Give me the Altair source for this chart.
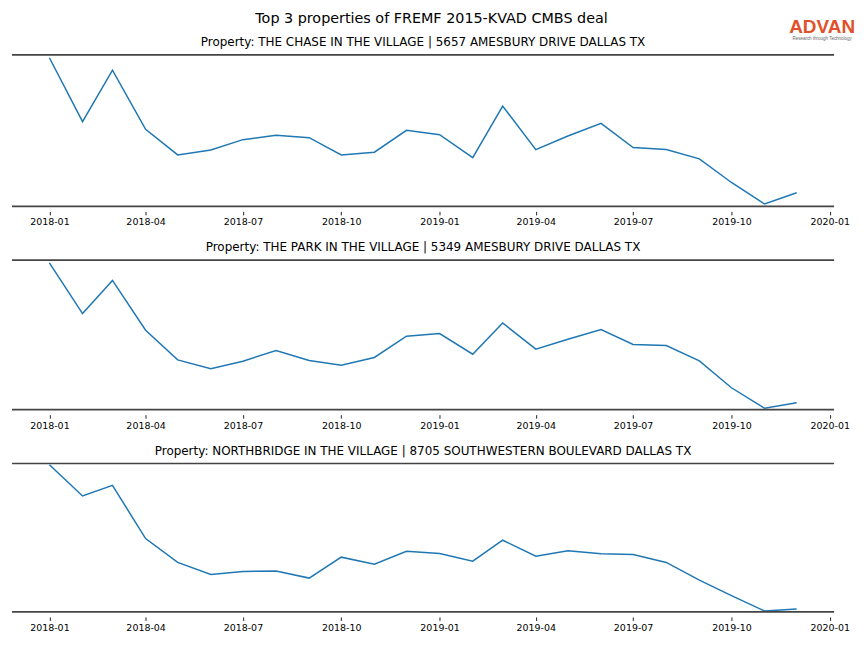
import altair as alt
import pandas as pd

months = ["2018-01-01", "2018-02-01", "2018-03-01", "2018-04-01", "2018-05-01", "2018-06-01",
          "2018-07-01", "2018-08-01", "2018-09-01", "2018-10-01", "2018-11-01", "2018-12-01",
          "2019-01-01", "2019-02-01", "2019-03-01", "2019-04-01", "2019-05-01", "2019-06-01",
          "2019-07-01", "2019-08-01", "2019-09-01", "2019-10-01", "2019-11-01", "2019-12-01"]

suptitle = "Top 3 properties of FREMF 2015-KVAD CMBS deal"
titles = [
    "Property: THE CHASE IN THE VILLAGE | 5657 AMESBURY DRIVE DALLAS TX",
    "Property: THE PARK IN THE VILLAGE | 5349 AMESBURY DRIVE DALLAS TX",
    "Property: NORTHBRIDGE IN THE VILLAGE | 8705 SOUTHWESTERN BOULEVARD DALLAS TX",
]

# relative visit index (no y axis shown in the original)
chase = [149.2, 85.0, 136.7, 77.4, 51.7, 56.7, 67.0, 71.4, 69.0, 51.7, 54.4, 76.4,
         72.0, 49.0, 100.7, 57.0, 70.7, 83.4, 59.0, 57.0, 47.7, 24.0, 2.4, 13.7]
park = [147.4, 96.4, 129.7, 79.7, 50.0, 41.0, 48.7, 59.4, 49.4, 44.7, 52.4, 73.7,
        76.4, 55.7, 87.0, 60.7, 70.7, 80.4, 65.4, 64.4, 49.0, 22.0, 1.4, 7.0]
northbridge = [147.7, 116.4, 127.0, 73.7, 49.7, 37.7, 40.7, 41.0, 34.0, 55.0, 48.0, 61.0,
               58.7, 51.0, 72.0, 56.0, 61.4, 58.4, 57.7, 49.7, 32.0, 16.4, 1.0, 3.0]

series = [chase, park, northbridge]
y_tops = [152, 150, 149]
heights = [152, 150, 149]

tick_months = [(2018, 1), (2018, 4), (2018, 7), (2018, 10), (2019, 1), (2019, 4),
               (2019, 7), (2019, 10), (2020, 1)]

FONT = "DejaVu Sans"
W = 825
SPINE = "#444444"

tick_vals = [alt.DateTime(year=y, month=m, date=1, utc=True) for y, m in tick_months]
x_domain = [alt.DateTime(year=2017, month=11, date=27, utc=True),
            alt.DateTime(year=2020, month=1, date=5, utc=True)]

one = pd.DataFrame({"a": [0]})


def label(text, x, y, **kw):
    return alt.Chart(one).mark_text(text=text, **kw).encode(x=alt.value(x), y=alt.value(y))


panels = []
for i, (vals, ttl, ytop, h) in enumerate(zip(series, titles, y_tops, heights)):
    df = pd.DataFrame({"month": months, "value": vals})
    line = alt.Chart(df).mark_line(color="#1f77b4", strokeWidth=1.5).encode(
        x=alt.X("month:T",
                scale=alt.Scale(type="utc", domain=x_domain),
                axis=alt.Axis(values=tick_vals, labelExpr="utcFormat(datum.value, '%Y-%m')",
                              title=None, domain=False, grid=False, ticks=True, tickSize=3.5,
                              tickColor="#222222", tickWidth=1, offset=5,
                              labelFont=FONT, labelFontSize=9.5, labelColor="black",
                              labelPadding=2, labelFlush=False, labelOverlap=False)),
        y=alt.Y("value:Q", scale=alt.Scale(domain=[0, ytop], nice=False, zero=False), axis=None),
    )
    top_rule = alt.Chart(one).mark_rule(color=SPINE, strokeWidth=1.7).encode(
        x=alt.value(0), x2=alt.value(W), y=alt.value(0))
    bot_rule = alt.Chart(one).mark_rule(color=SPINE, strokeWidth=1.7).encode(
        x=alt.value(0), x2=alt.value(W), y=alt.value(h))
    ptitle = label(ttl, W / 2, -13, font=FONT, fontSize=12, color="black",
                   align="center", baseline="middle")
    layers = [line, top_rule, bot_rule, ptitle]
    if i == 0:
        layers += [
            label(suptitle, 421, -36, font=FONT, fontSize=14.4, color="black",
                  align="center", baseline="middle"),
            label("ADVAN", 813, -22, font="Liberation Sans", fontSize=19, fontWeight="bold",
                  color="#E2502A", align="center", baseline="alphabetic"),
            label("Research through Technology", 813, -16, font="Liberation Sans",
                  fontSize=4.5, color="#666666", align="center", baseline="middle"),
        ]
    panels.append(alt.layer(*layers).properties(width=W, height=h))

chart = alt.vconcat(*panels, spacing=15).properties(
    padding={"left": 3, "top": 2, "right": 0, "bottom": 0},
).configure_view(stroke=None)

chart.save("out.html", embed_options={"renderer": "svg", "actions": False})
